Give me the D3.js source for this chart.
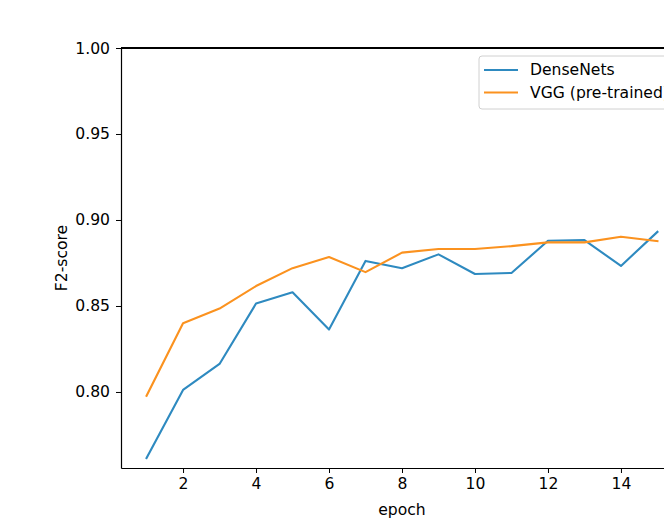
<!DOCTYPE html>
<html><head><meta charset="utf-8">
<script src="https://cdn.jsdelivr.net/npm/d3@7"></script>
<style>body{margin:0;background:#fff;overflow:hidden}svg{display:block;font-family:"DejaVu Sans",sans-serif}</style>
</head><body><svg id="c" width="664" height="527"></svg>
<script>
const epochs = [1,2,3,4,5,6,7,8,9,10,11,12,13,14,15];
const denseNets = [0.7616,0.8012,0.8163,0.8514,0.8580,0.8363,0.8762,0.8719,0.8800,0.8686,0.8692,0.8879,0.8883,0.8733,0.8931];
const vggPretrained = [0.7978,0.8400,0.8485,0.8616,0.8720,0.8785,0.8697,0.8810,0.8831,0.8831,0.8848,0.8870,0.8870,0.8903,0.8877];
const seriesNames = ["DenseNets","VGG (pre-trained)"];
const xTicks = [2,4,6,8,10,12,14];
const yTicks = [0.80,0.85,0.90,0.95,1.00];

const svg = d3.select("#c");
const L=121, R=683, T=48, B=468;
const x = d3.scaleLinear().domain([0.3,15.7]).range([L,R]);
const y = d3.scaleLinear().domain([0.7558,1.0]).range([B,T]);
const fs = 15.6;

const colors = ["#2e8ac0","#fb921f"];
const line = d3.line().x((d,i)=>x(epochs[i])).y(d=>y(d));
[denseNets,vggPretrained].forEach((s,k)=>{
  svg.append("path").datum(s).attr("d",line).attr("fill","none")
    .attr("stroke",colors[k]).attr("stroke-width",2.1).attr("stroke-linejoin","round").attr("stroke-linecap","square");
});

const xa = svg.append("g").attr("transform",`translate(0,${B})`)
  .call(d3.axisBottom(x).tickValues(xTicks).tickFormat(d3.format("d")).tickSize(5).tickPadding(5).tickSizeOuter(0));
const ya = svg.append("g").attr("transform",`translate(${L},0)`)
  .call(d3.axisLeft(y).tickValues(yTicks).tickFormat(d3.format(".2f")).tickSize(5).tickPadding(6).tickSizeOuter(0));
[xa,ya].forEach(a=>{
  a.selectAll("text").attr("font-size",fs).attr("font-family","DejaVu Sans").attr("fill","#000");
  a.selectAll("line").attr("stroke","#000").attr("stroke-width",1);
  a.select(".domain").attr("stroke","#000").attr("stroke-width",1.2);
});
// top spine
svg.append("line").attr("x1",L).attr("x2",R).attr("y1",T).attr("y2",T).attr("stroke","#000").attr("stroke-width",1.2).attr("shape-rendering","crispEdges");

svg.append("text").attr("x",(L+R)/2).attr("y",515).attr("text-anchor","middle").attr("font-size",fs).text("epoch");
svg.append("text").attr("transform",`translate(67,${(T+B)/2}) rotate(-90)`).attr("text-anchor","middle").attr("font-size",fs).text("F2-score");

// legend
const lg = svg.append("g");
lg.append("rect").attr("x",479).attr("y",56).attr("width",230).attr("height",53).attr("rx",3)
  .attr("fill","#fff").attr("fill-opacity",0.85).attr("stroke","#d0d0d0").attr("stroke-width",1);
seriesNames.forEach((n,k)=>{
  const cy = 70 + k*22.5;
  lg.append("line").attr("x1",484).attr("x2",518).attr("y1",cy).attr("y2",cy).attr("stroke",colors[k]).attr("stroke-width",2.1);
  lg.append("text").attr("x",530).attr("y",cy).attr("dy","0.35em").attr("font-size",fs).text(n);
});
</script></body></html>
